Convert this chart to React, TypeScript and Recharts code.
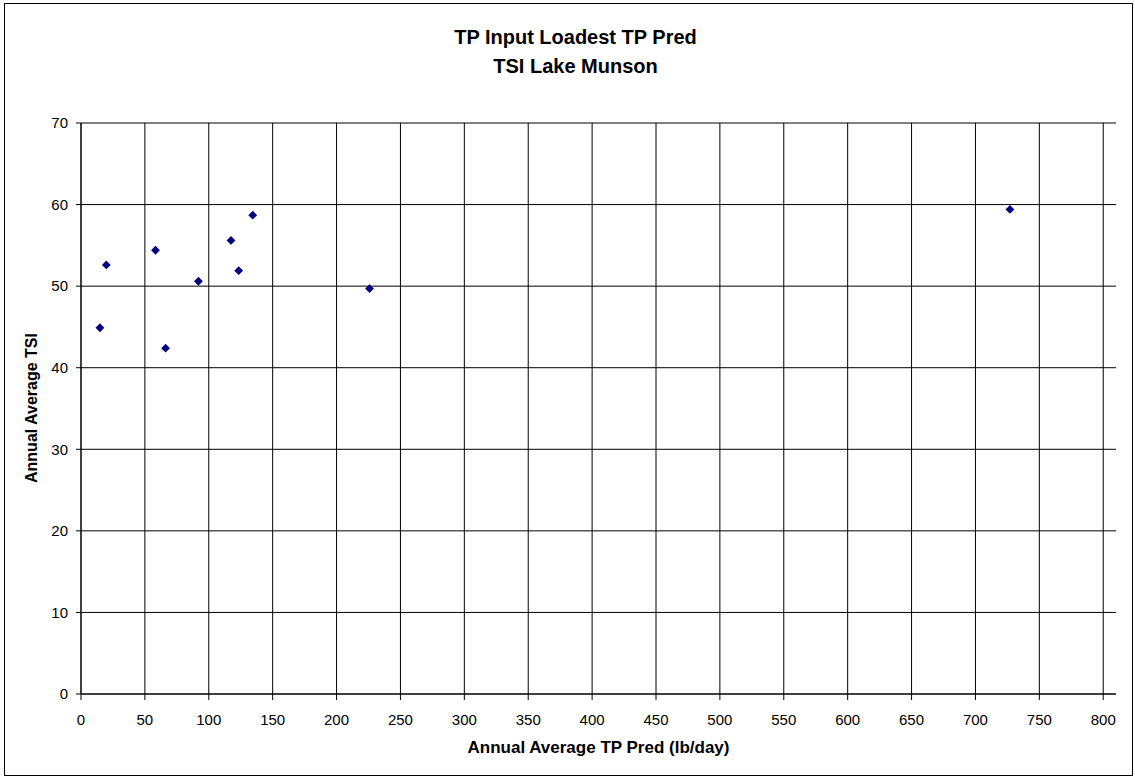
import { ScatterChart, Scatter, XAxis, YAxis, CartesianGrid } from 'recharts';

const TP_PRED = [14.8, 19.8, 58.3, 66.2, 91.9, 117.4, 123.4, 134.4, 225.8, 727];
const TSI = [44.9, 52.6, 54.4, 42.4, 50.6, 55.6, 51.9, 58.7, 49.7, 59.4];
const X_TICKS = [0, 50, 100, 150, 200, 250, 300, 350, 400, 450, 500, 550, 600, 650, 700, 750, 800];
const Y_TICKS = [0, 10, 20, 30, 40, 50, 60, 70];
const X_DOMAIN = [0, 810];

const points = TP_PRED.map((x, i) => ({ x, y: TSI[i] }));

const font = 'Arial, "Liberation Sans", sans-serif';

function Diamond(props: any) {
  const { cx, cy } = props;
  const r = 4.4;
  return (
    <polygon
      points={`${cx},${cy - r} ${cx + r},${cy} ${cx},${cy + r} ${cx - r},${cy}`}
      fill="#000080"
    />
  );
}

// vertical grid only at the labelled ticks (the plot area runs a little past 800)
const verticalAtTicks = (args: any) => {
  const scale = args?.xAxis?.scale;
  if (typeof scale === 'function') return X_TICKS.map((t) => scale(t));
  const { left, width } = args.offset;
  return X_TICKS.map((t) => left + ((t - X_DOMAIN[0]) / (X_DOMAIN[1] - X_DOMAIN[0])) * width);
};

export default function App() {
  return (
    <div style={{ position: 'absolute', left: 0, top: 0, width: 1135, height: 776, background: '#fff', fontFamily: font }}>
      <div style={{ position: 'absolute', left: 4, top: 3, width: 1127, height: 771, border: '1px solid #000' }} />
      <div style={{ position: 'absolute', left: 8, top: 23, width: 1135, textAlign: 'center', fontWeight: 700, fontSize: 20, lineHeight: '29px' }}>
        TP Input Loadest TP Pred
        <br />
        TSI Lake Munson
      </div>
      <div style={{ position: 'absolute', left: 81, width: 1035, top: 737, textAlign: 'center', fontWeight: 700, fontSize: 17, lineHeight: '22px' }}>
        Annual Average TP Pred (lb/day)
      </div>
      <div style={{ position: 'absolute', left: 32, top: 408, width: 0, height: 0 }}>
        <div style={{ position: 'absolute', transform: 'translate(-50%, -50%) rotate(-90deg)', whiteSpace: 'nowrap', fontWeight: 700, fontSize: 16 }}>
          Annual Average TSI
        </div>
      </div>
      <ScatterChart
        width={1135}
        height={776}
        margin={{ top: 123, right: 19, bottom: 52, left: 21 }}
        style={{ position: 'absolute', left: 0, top: 0 }}
      >
        <CartesianGrid stroke="#000" strokeWidth={1} verticalCoordinatesGenerator={verticalAtTicks} />
        <XAxis
          type="number"
          dataKey="x"
          domain={X_DOMAIN}
          ticks={X_TICKS}
          interval={0}
          height={30}
          tickSize={6}
          tickMargin={14}
          axisLine={{ stroke: '#000' }}
          tickLine={{ stroke: '#000' }}
          tick={{ fill: '#000', fontSize: 15, fontFamily: font }}
        />
        <YAxis
          type="number"
          dataKey="y"
          domain={[0, 70]}
          ticks={Y_TICKS}
          interval={0}
          width={60}
          tickSize={5}
          tickMargin={8}
          axisLine={{ stroke: '#000' }}
          tickLine={{ stroke: '#000' }}
          tick={{ fill: '#000', fontSize: 15, fontFamily: font }}
        />
        <Scatter data={points} shape={<Diamond />} isAnimationActive={false} />
      </ScatterChart>
    </div>
  );
}
